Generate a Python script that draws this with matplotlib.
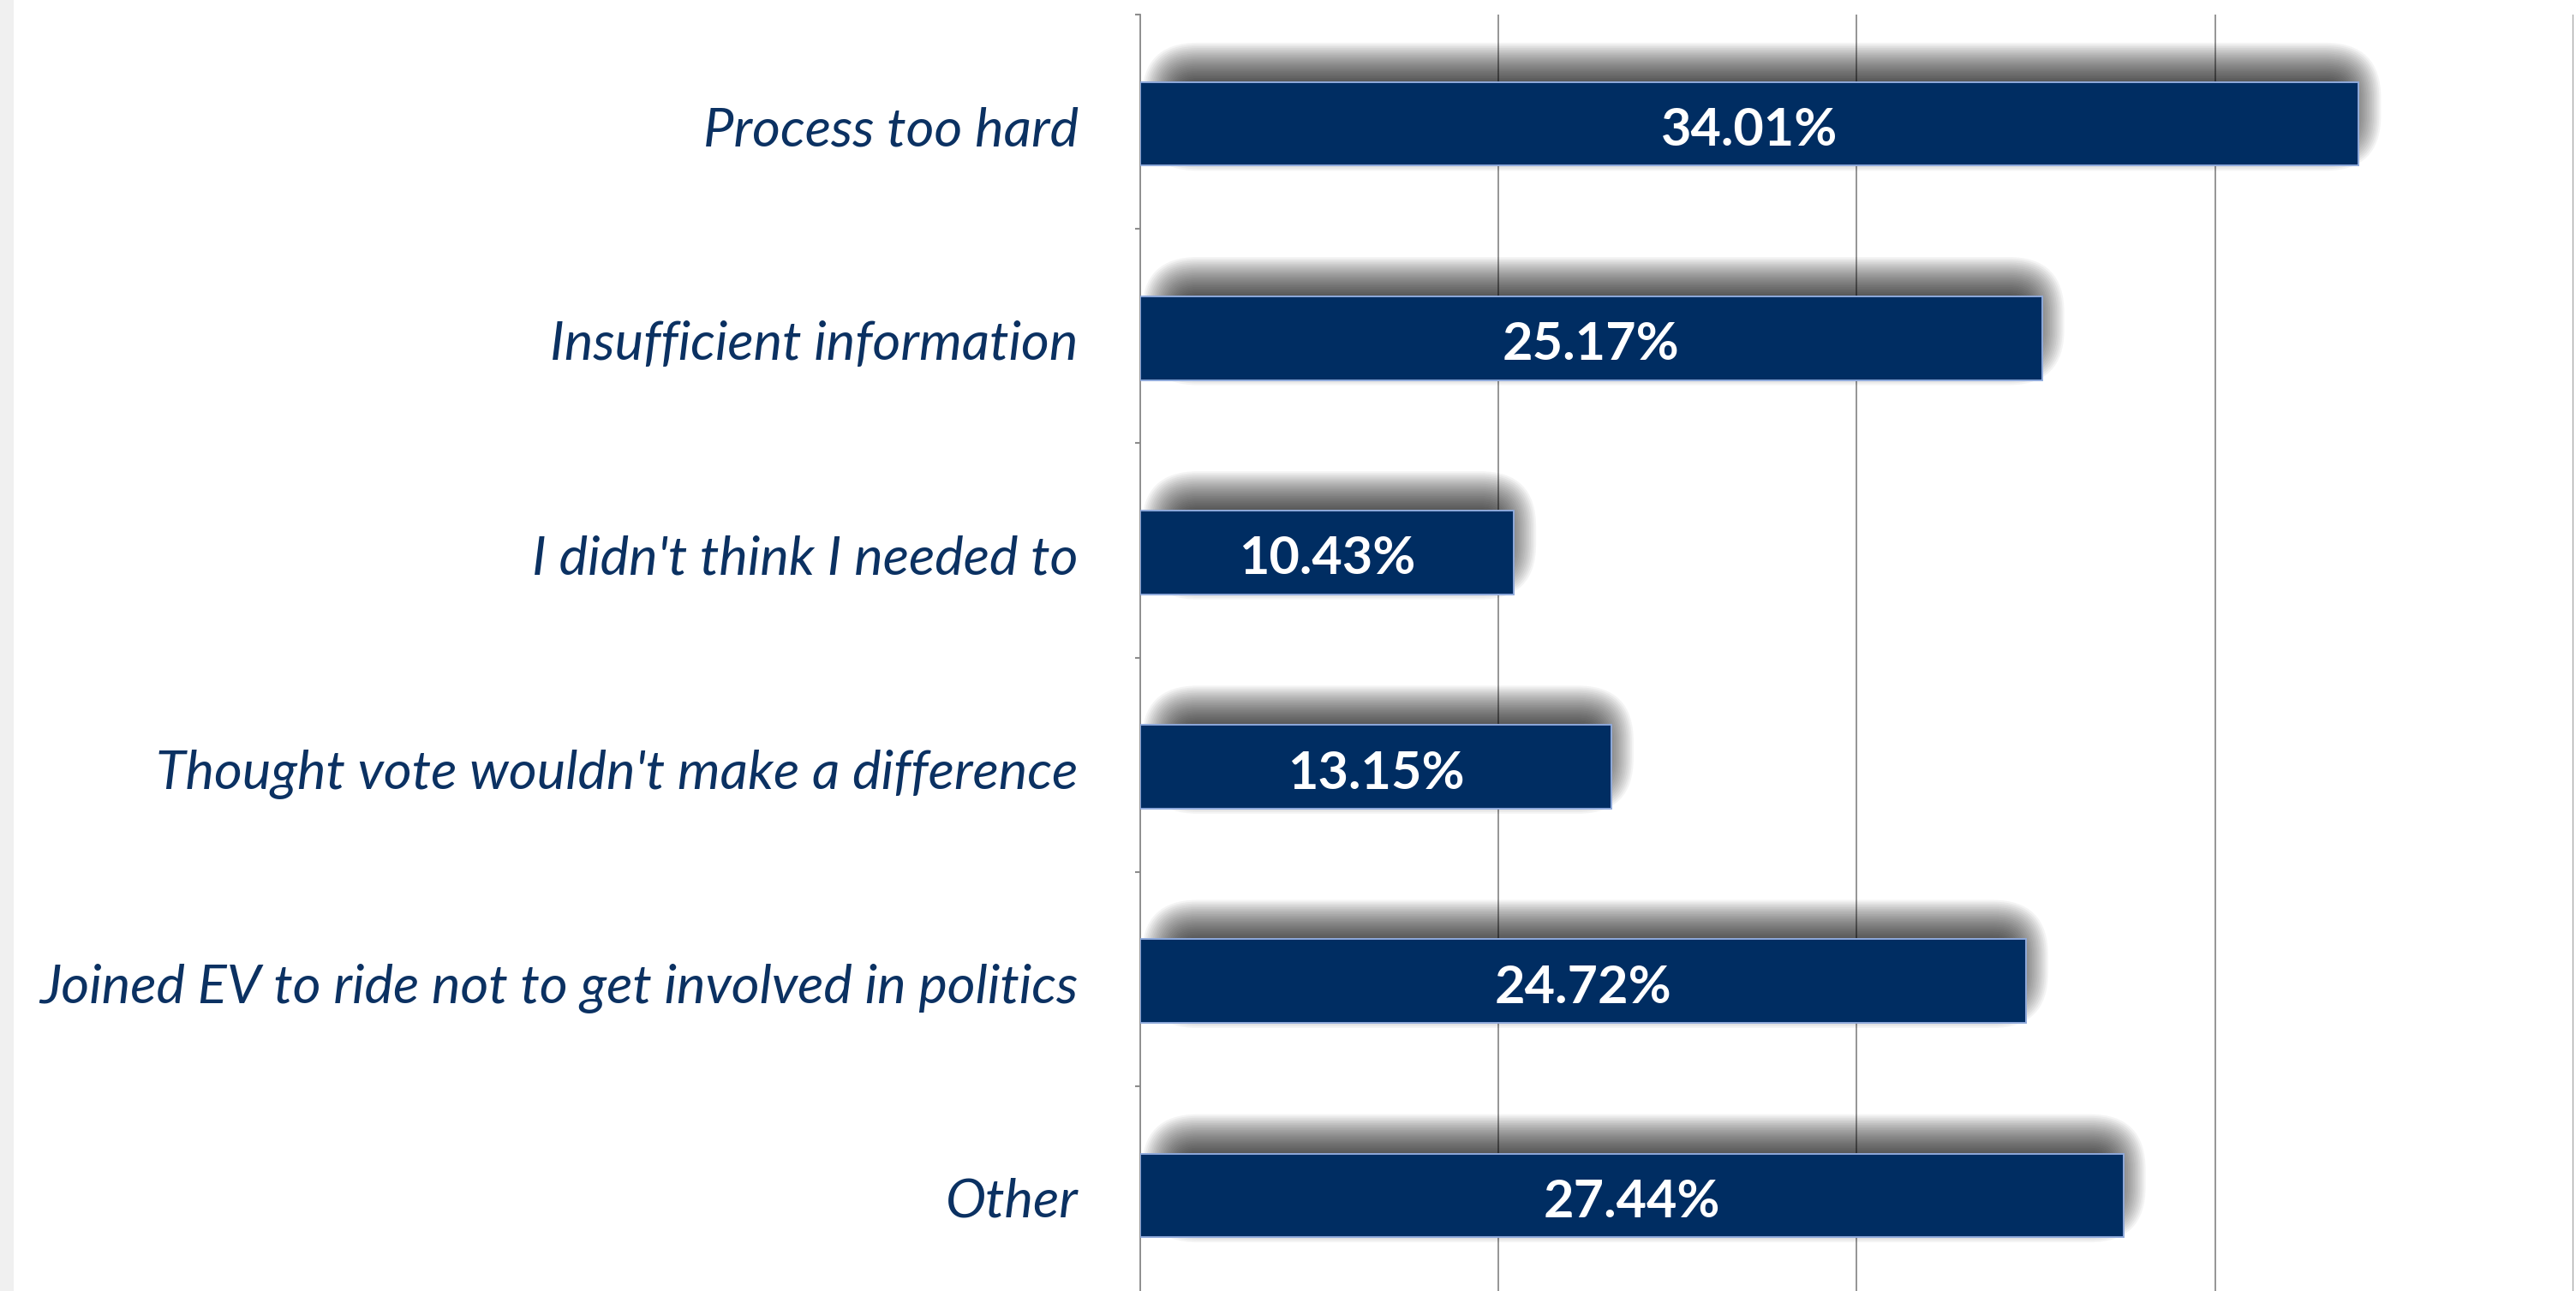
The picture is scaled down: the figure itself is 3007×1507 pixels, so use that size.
import matplotlib
matplotlib.use("Agg")
import matplotlib.pyplot as plt
from matplotlib.patches import Rectangle, FancyBboxPatch
import numpy as np

# data
reasons = ["Process too hard",
           "Insufficient information",
           "I didn't think I needed to",
           "Thought vote wouldn't make a difference",
           "Joined EV to ride not to get involved in politics",
           "Other"]
shares = [34.01, 25.17, 10.43, 13.15, 24.72, 27.44]
share_labels = ["34.01%", "25.17%", "10.43%", "13.15%", "24.72%", "27.44%"]

navy = "#002d62"
text_navy = "#0b3162"
grid_grey = "#8c8c8c"
bar_h = 0.39

fig = plt.figure(figsize=(30.07, 15.07), dpi=100)
fig.patch.set_facecolor("white")
# thin grey strip on the far left
fig.patches.append(Rectangle((0, 0), 16 / 3007, 1, transform=fig.transFigure,
                             facecolor="#f0f0f0", edgecolor="none", zorder=-5))

pos = [0.4426, -0.0073, 0.5564, 0.996]
ax = fig.add_axes(pos)
ax.set_xlim(0, 40)
ax.set_ylim(len(reasons) - 0.5, -0.5)

# pixel -> data scale, used for the soft shadow
W, H = fig.get_size_inches() * fig.dpi
px_x = 40 / (pos[2] * W)
px_y = len(reasons) / (pos[3] * H)

y = np.arange(len(reasons)) + 0.01
bars = ax.barh(y, shares, height=bar_h, color=navy, edgecolor="#8faadc",
               linewidth=1.4, zorder=3)

# blurred shadow (shifted up): stack of faint rounded boxes grown step by step
R = 32
for yi, v in zip(y, shares):
    x0 = 34 * px_x
    x1 = v - 6 * px_x
    top = yi - bar_h / 2 - 14 * px_y
    bot = yi + bar_h / 2 - 26 * px_y
    for r in np.linspace(-R, R, 32):
        w_px = (x1 - x0) / px_x + 2 * r
        h_px = (bot - top) / px_y + 2 * r
        rs = min(r + R + 1, 0.5 * w_px, 0.5 * h_px) * px_x
        ax.add_patch(FancyBboxPatch((x0 - r * px_x, top - r * px_y),
                                    w_px * px_x, h_px * px_y,
                                    boxstyle=f"round,pad=0,rounding_size={rs}",
                                    mutation_aspect=px_y / px_x,
                                    facecolor="black", edgecolor="none", alpha=0.045, zorder=2))

for yi, v, lab in zip(y, shares, share_labels):
    ax.text(v / 2, yi + 0.03, lab, ha="center", va="center", color="white",
            fontsize=44, fontweight="bold", family="Lato", zorder=5)

ax.set_xticks([0, 10, 20, 30, 40])
ax.tick_params(axis="x", length=0, labelbottom=False)
ax.grid(axis="x", color=grid_grey, linewidth=1.3)
ax.set_axisbelow(True)

ax.set_yticks(y + 0.01)
ax.set_yticklabels(reasons, fontstyle="italic", family="Lato", fontsize=45.5, color=text_navy)
ax.tick_params(axis="y", length=0, pad=52)
ax.set_yticks(np.arange(len(reasons) + 1) - 0.5, minor=True)
ax.tick_params(axis="y", which="minor", length=4, width=1.5, color=grid_grey)

for s in ["top", "right", "bottom"]:
    ax.spines[s].set_visible(False)
ax.spines["left"].set_color(grid_grey)
ax.spines["left"].set_linewidth(1.3)

fig.savefig("out.png", dpi=100)
